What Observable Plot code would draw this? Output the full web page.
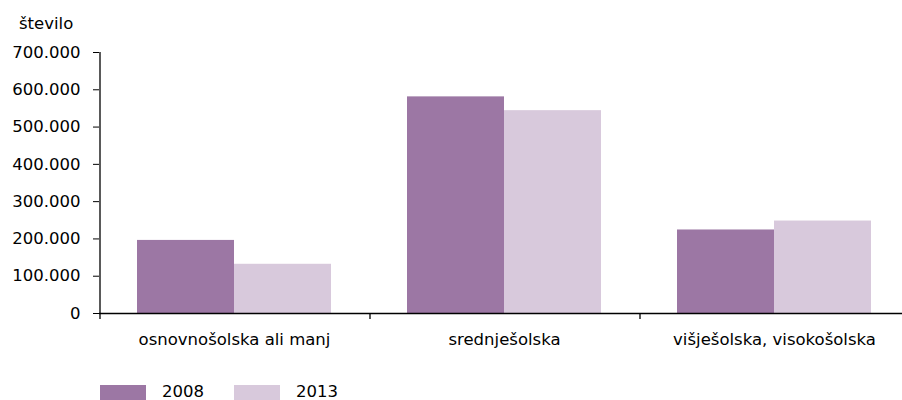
<!DOCTYPE html>
<html>
<head>
<meta charset="utf-8">
<script src="https://cdn.jsdelivr.net/npm/d3@7"></script>
<script src="https://cdn.jsdelivr.net/npm/@observablehq/plot@0.6"></script>
<style>
  html, body { margin: 0; padding: 0; background: #fff; overflow: hidden; }
  #wrap { position: relative; width: 902px; height: 400px; overflow: hidden; font-family: "DejaVu Sans", sans-serif; color: #000; }
  #ylabel { position: absolute; left: 19px; top: 14px; font-size: 16.5px; }
  #chart { position: absolute; left: 0; top: 0; width: 909px; }
  #chart svg { max-width: none !important; }
  #legend { position: absolute; left: 100px; top: 384px; display: flex; align-items: flex-start; font-size: 16.5px; }
  .item { display: flex; align-items: flex-start; margin-right: 30px; }
  .sw { width: 46px; height: 16px; margin-top: 1px; margin-right: 16px; }
  .lab { line-height: 15px; margin-top: 0px; }
</style>
</head>
<body>
<div id="wrap">
  <div id="chart"></div>
  <div id="ylabel"></div>
  <div id="legend"></div>
</div>
<script>
const categories = ["osnovnošolska ali manj", "srednješolska", "višješolska, visokošolska"];
const years = ["2008", "2013"];
const values2008 = [196000, 581000, 224000];
const values2013 = [132000, 544000, 248000];
const yTicks = [0, 100000, 200000, 300000, 400000, 500000, 600000, 700000];
const colors = ["#9c77a4", "#d8c9dc"];
const yLabel = "število";

const series = {"2008": values2008, "2013": values2013};
const data = categories.flatMap((c, i) => years.map(y => ({category: c, year: y, value: series[y][i]})));

const fmt = d => d3.format(",")(d).replace(/,/g, ".");

const chart = Plot.plot({
  width: 909,
  height: 362,
  marginLeft: 99,
  marginRight: 0,
  marginTop: 52,
  marginBottom: 49,
  style: {fontFamily: "DejaVu Sans, sans-serif", fontSize: "16.5px", color: "#000", background: "transparent", overflow: "visible", maxWidth: "none"},
  fx: {domain: categories, padding: 0, label: null},
  x: {domain: years, paddingInner: 0, paddingOuter: 0.378, axis: null},
  y: {domain: [0, 700000], label: null, axis: null},
  color: {domain: years, range: colors},
  marks: [
    Plot.barY(data, {fx: "category", x: "year", y: "value", fill: "year"}),
    Plot.axisY({ticks: yTicks, tickFormat: fmt, tickSize: 6, tickPadding: 13, label: null, facetAnchor: "left", stroke: "#000"}),
    Plot.ruleY([0], {stroke: "#000", strokeWidth: 1.3}),
    Plot.ruleX(categories, {fx: d => d, x: () => years[0], y1: 0, y2: 700000, dx: -86, stroke: "#000", strokeWidth: 1.3, facetAnchor: "left"}),
    Plot.ruleX(categories, {fx: d => d, x: () => years[0], y1: 0, y2: 0, insetBottom: -6, dx: -86, stroke: "#000", strokeWidth: 1.3}),
    Plot.axisFx({anchor: "bottom", tickSize: 0, tickPadding: 20, label: null})
  ]
});
document.getElementById("chart").appendChild(chart);
document.getElementById("ylabel").textContent = yLabel;

const legend = document.getElementById("legend");
years.forEach((y, i) => {
  const item = document.createElement("div");
  item.className = "item";
  const sw = document.createElement("div");
  sw.className = "sw";
  sw.style.background = colors[i];
  const lab = document.createElement("div");
  lab.className = "lab";
  lab.textContent = y;
  item.appendChild(sw);
  item.appendChild(lab);
  legend.appendChild(item);
});
</script>
</body>
</html>
